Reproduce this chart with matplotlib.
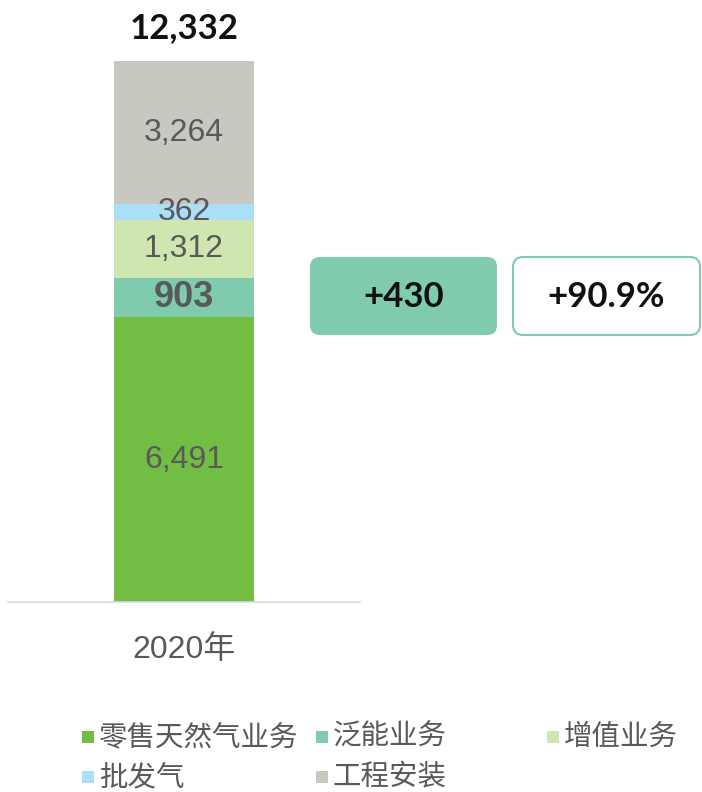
import numpy as np
import matplotlib.pyplot as plt
from matplotlib.patches import FancyBboxPatch, Rectangle

# data
categories = ['零售天然气业务', '泛能业务', '增值业务', '批发气', '工程安装']
values = [6491, 903, 1312, 362, 3264]
colors = ['#72BE44', '#80CBAE', '#CFE6B0', '#A9DFF7', '#C8C7C0']
year_label = '2020年'
total = sum(values)
delta_abs = '+430'
delta_pct = '+90.9%'

plt.rcParams['font.family'] = ['Liberation Sans', 'Noto Sans CJK SC', 'DejaVu Sans']
gray = '#595959'
boldfam = ['Lato', 'DejaVu Sans']

fig = plt.figure(figsize=(7.02, 7.92), dpi=100)
W, H = 702, 792

# main bar axes (pixel layout converted to figure fraction)
ax = fig.add_axes([8 / W, (H - 602) / H, 352 / W, (602 - 61) / H])
ax.set_xlim(-0.5, 0.5)
ax.set_ylim(0, total)

bottom = 0
for i, v in enumerate(values):
    ax.bar(0, v, width=0.40, bottom=bottom, color=colors[i], linewidth=0)
    if i == 1:
        ax.text(0, bottom + v / 2, f'{v:,}', ha='center', va='center',
                fontsize=26, fontweight='bold', color=gray)
    else:
        ax.text(0, bottom + v / 2, f'{v:,}', ha='center', va='center',
                fontsize=23, color=gray)
    bottom += v

ax.annotate(f'{total:,}', (0, total), xytext=(0, 24), textcoords='offset points',
            ha='center', va='center', fontsize=25, fontweight='bold',
            color='#111111', family=boldfam, annotation_clip=False)

for s in ['top', 'right', 'left']:
    ax.spines[s].set_visible(False)
ax.spines['bottom'].set_color('#D9D9D9')
ax.spines['bottom'].set_linewidth(1.2)
ax.set_yticks([])
ax.set_xticks([0])
ax.set_xticklabels([year_label], fontsize=23, color=gray)
ax.tick_params(axis='x', length=0, pad=24)

# overlay in pixel units for the boxes and legend
ov = fig.add_axes([0, 0, 1, 1])
ov.set_xlim(0, W)
ov.set_ylim(H, 0)
ov.axis('off')

b1 = FancyBboxPatch((310, 257), 187, 78, boxstyle='round,pad=0,rounding_size=10',
                    facecolor='#80CBAE', edgecolor='none')
b2 = FancyBboxPatch((513, 257), 187, 78, boxstyle='round,pad=0,rounding_size=10',
                    facecolor='white', edgecolor='#80CBAE', linewidth=1.5)
ov.add_patch(b1)
ov.add_patch(b2)
ov.text(403.5, 297, delta_abs, ha='center', va='center', fontsize=25,
        fontweight='bold', color='#111111', family=boldfam)
ov.text(606.5, 297, delta_pct, ha='center', va='center', fontsize=25,
        fontweight='bold', color='#111111', family=boldfam)

# legend (row-major, uneven column positions as in the original)
leg_pos = [(82, 737), (316, 737), (547, 737), (82, 777), (316, 777)]
for (x, y), lab, c in zip(leg_pos, categories, colors):
    ov.add_patch(Rectangle((x, y - 6), 12, 12, facecolor=c, edgecolor='none'))
    ov.text(x + 17, y, lab, ha='left', va='center', fontsize=20.5, color=gray,
            family=['Noto Sans CJK SC', 'DejaVu Sans'])

fig.savefig('out.png', dpi=100)
